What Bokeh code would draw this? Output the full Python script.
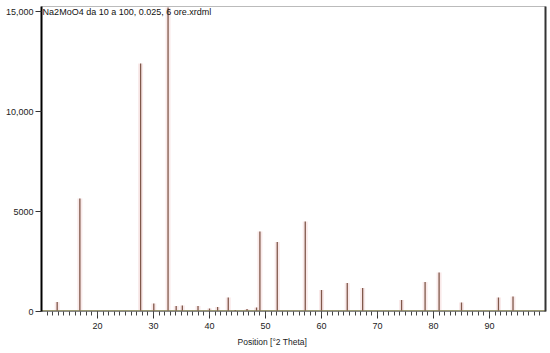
from bokeh.plotting import figure
from bokeh.models import FixedTicker, Label, Title, LinearAxis
from bokeh.embed import file_html
from bokeh.resources import INLINE

# ---- data ----
peak_pos = [12.8, 16.85, 27.7, 30.05, 32.6, 34.05, 35.15, 37.95, 40.0, 41.45,
            43.35, 44.6, 46.7, 48.4, 49.0, 52.1, 57.1, 60.0, 64.6, 67.35,
            74.3, 78.5, 81.0, 85.0, 91.6, 94.2]
peak_int = [480, 5650, 12400, 400, 15200, 280, 300, 270, 150, 230,
            700, 80, 120, 200, 4000, 3470, 4500, 1080, 1420, 1170,
            580, 1470, 1950, 450, 700, 750]
background_level = 40
x_start, x_end = 10, 100
y_ticks = [0, 5000, 10000, 15000]
y_tick_labels = ["0", "5000", "10,000", "15,000"]
x_ticks = [20, 30, 40, 50, 60, 70, 80, 90]
x_minor_ticks = list(range(11, 100))
title_text = "Na2MoO4 da 10 a 100, 0.025, 6 ore.xrdml"
x_label_text = "Position [°2 Theta]"

FONT = "Liberation Sans"

p = figure(width=550, height=353, output_backend="svg", toolbar_location=None,
           x_range=(x_start, x_end), y_range=(0, 15250),
           min_border_left=41, min_border_right=5, min_border_top=6,
           min_border_bottom=42)
p.grid.visible = False
p.outline_line_color = "#bbbbbb"
p.background_fill_color = "white"
p.border_fill_color = "white"

# faint pink halo around peaks
base = [background_level] * len(peak_pos)
p.segment(x0=peak_pos, x1=peak_pos, y0=base, y1=peak_int,
          line_color="#f8e4e4", line_width=5, line_alpha=0.8)
# background line
p.line(x=[x_start, x_end], y=[background_level, background_level],
       line_color="#9c9a72", line_width=1.5)
# peaks
p.segment(x0=peak_pos, x1=peak_pos, y0=base, y1=peak_int,
          line_color="#80584a", line_width=1.3)

# axes
ya = p.yaxis[0]
ya.ticker = FixedTicker(ticks=y_ticks, minor_ticks=[])
ya.major_label_overrides = {t: s for t, s in zip(y_ticks, y_tick_labels)}
ya.axis_line_color = "black"
ya.axis_line_width = 2
ya.major_tick_out = 6
ya.major_tick_in = 0
ya.major_tick_line_color = "#333333"
ya.major_label_standoff = 2
ya.major_label_text_font = FONT
ya.major_label_text_font_size = "9px"
ya.major_label_text_color = "#222222"

xa = p.xaxis[0]
xa.ticker = FixedTicker(ticks=x_ticks, minor_ticks=x_minor_ticks)
xa.axis_line_color = "#888888"
xa.axis_line_width = 1
xa.major_tick_out = 7
xa.major_tick_in = 0
xa.minor_tick_out = 4
xa.minor_tick_in = 0
xa.major_tick_line_color = "#333333"
xa.minor_tick_line_color = "#444444"
xa.major_label_standoff = 4
xa.major_label_text_font = FONT
xa.major_label_text_font_size = "9px"
xa.major_label_text_color = "#222222"

# right frame line drawn as an unlabeled axis
ra = LinearAxis(ticker=FixedTicker(ticks=[]), axis_line_color="#333333",
                axis_line_width=2, major_tick_line_color=None,
                minor_tick_line_color=None, major_label_text_font_size="0px")
p.add_layout(ra, "right")

# title inside plot
p.add_layout(Label(x=10.2, y=15000, text=title_text, text_font=FONT,
                   text_font_size="9px", text_color="#111111",
                   text_baseline="middle", text_align="left"))
# x axis label as a title below, shifted left like the reference
p.add_layout(Title(text=x_label_text, align="left", offset=196,
                   text_font=FONT, text_font_size="8.5px",
                   text_font_style="normal", text_color="#222222",
                   standoff=6), "below")

open("out.html", "w").write(file_html(p, INLINE))
